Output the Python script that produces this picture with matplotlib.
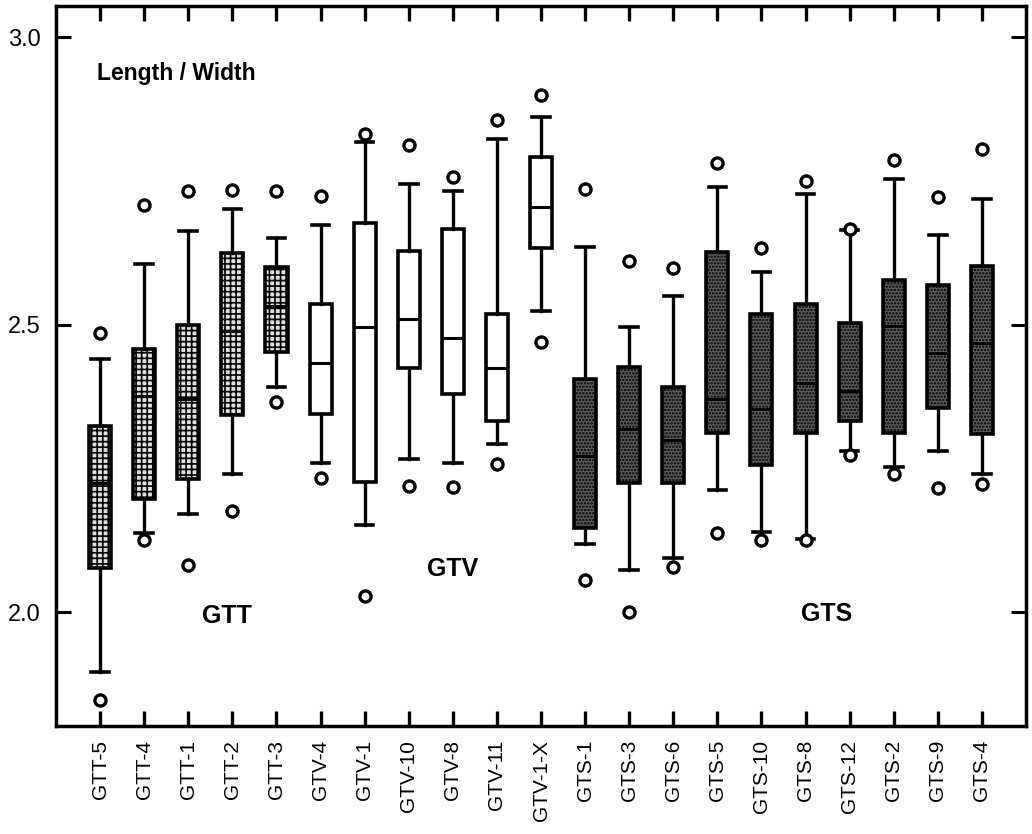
import matplotlib
matplotlib.use("Agg")
import matplotlib.pyplot as plt
import numpy as np

plt.rcParams['font.family'] = ['Liberation Sans', 'DejaVu Sans']
plt.rcParams['hatch.linewidth'] = 1.2

labels = ["GTT-5", "GTT-4", "GTT-1", "GTT-2", "GTT-3",
          "GTV-4", "GTV-1", "GTV-10", "GTV-8", "GTV-11", "GTV-1-X",
          "GTS-1", "GTS-3", "GTS-6", "GTS-5", "GTS-10", "GTS-8", "GTS-12",
          "GTS-2", "GTS-9", "GTS-4"]
groups = ["GTT"] * 5 + ["GTV"] * 6 + ["GTS"] * 10

outlier_hi = [2.486, 2.708, 2.733, 2.734, 2.733,
              2.724, 2.832, 2.813, 2.757, 2.856, 2.899,
              2.736, 2.610, 2.599, 2.781, 2.634, 2.750, 2.667,
              2.786, 2.722, 2.806]
whisker_hi = [2.441, 2.606, 2.663, 2.701, 2.651,
              2.674, 2.818, 2.745, 2.733, 2.823, 2.861,
              2.635, 2.495, 2.550, 2.740, 2.592, 2.727, 2.665,
              2.753, 2.656, 2.719]
q3 = [2.323, 2.457, 2.500, 2.625, 2.601,
      2.535, 2.677, 2.628, 2.667, 2.519, 2.792,
      2.406, 2.427, 2.391, 2.627, 2.519, 2.536, 2.502,
      2.578, 2.569, 2.602]
median = [2.224, 2.375, 2.370, 2.488, 2.533,
          2.434, 2.495, 2.509, 2.476, 2.425, 2.705,
          2.271, 2.319, 2.300, 2.370, 2.354, 2.398, 2.385,
          2.498, 2.450, 2.468]
q1 = [2.076, 2.196, 2.231, 2.342, 2.453,
      2.344, 2.226, 2.424, 2.380, 2.332, 2.634,
      2.146, 2.224, 2.224, 2.311, 2.255, 2.311, 2.332,
      2.311, 2.355, 2.310]
whisker_lo = [1.896, 2.137, 2.170, 2.241, 2.391,
              2.260, 2.151, 2.266, 2.260, 2.293, 2.524,
              2.118, 2.073, 2.095, 2.212, 2.139, 2.128, 2.281,
              2.252, 2.280, 2.240]
outlier_lo = [1.847, 2.125, 2.082, 2.175, 2.365,
              2.233, 2.028, 2.219, 2.217, 2.257, 2.470,
              2.056, 2.000, 2.078, 2.137, 2.125, 2.125, 2.273,
              2.241, 2.215, 2.222]

fig = plt.figure(figsize=(10.32, 8.34), dpi=100)
ax = fig.add_axes([0.0543, 0.1295, 0.9399, 0.8633])

stats = []
for i in range(len(labels)):
    stats.append(dict(med=median[i], q1=q1[i], q3=q3[i],
                      whislo=whisker_lo[i], whishi=whisker_hi[i],
                      fliers=[outlier_lo[i], outlier_hi[i]], label=labels[i]))

positions = np.arange(1, len(labels) + 1)
bp = ax.bxp(stats, positions=positions, widths=0.5, patch_artist=True,
            showfliers=True,
            boxprops=dict(linewidth=2.6, edgecolor='black'),
            whiskerprops=dict(linewidth=2.4, color='black'),
            capprops=dict(linewidth=2.6, color='black'),
            medianprops=dict(linewidth=2.2, color='black'),
            flierprops=dict(marker='o', markersize=8, markerfacecolor='white',
                            markeredgecolor='black', markeredgewidth=2.4),
            capwidths=0.4)

for patch, g in zip(bp['boxes'], groups):
    if g == "GTT":
        patch.set_facecolor('#e0e0e0')
        patch.set_hatch('+++')
    elif g == "GTV":
        patch.set_facecolor('white')
    else:
        patch.set_facecolor('#5e5e5e')
        patch.set_hatch('.....')

ax.set_xlim(0, len(labels) + 1)
ax.set_ylim(1.802, 3.054)
ax.set_xticks(positions)
ax.set_xticklabels(labels, rotation=90, fontsize=15)
ax.set_yticks([2.0, 2.5, 3.0])
ax.set_yticklabels(["2.0", "2.5", "3.0"], fontsize=17)

ax.tick_params(axis='x', direction='in', length=10.5, width=2.4, top=True, bottom=True, pad=10)
ax.tick_params(axis='y', direction='in', length=11, width=2.2, left=True, right=True, pad=11)
for s in ax.spines.values():
    s.set_linewidth(2.5)

ax.text(0.93, 2.936, "Length / Width", fontsize=16.5, fontweight='bold',
        ha='left', va='center')
ax.text(3.88, 1.993, "GTT", fontsize=18, fontweight='bold', ha='center', va='center')
ax.text(9.0, 2.075, "GTV", fontsize=18, fontweight='bold', ha='center', va='center')
ax.text(17.48, 1.996, "GTS", fontsize=18, fontweight='bold', ha='center', va='center')

fig.savefig("out.png", dpi=100)
